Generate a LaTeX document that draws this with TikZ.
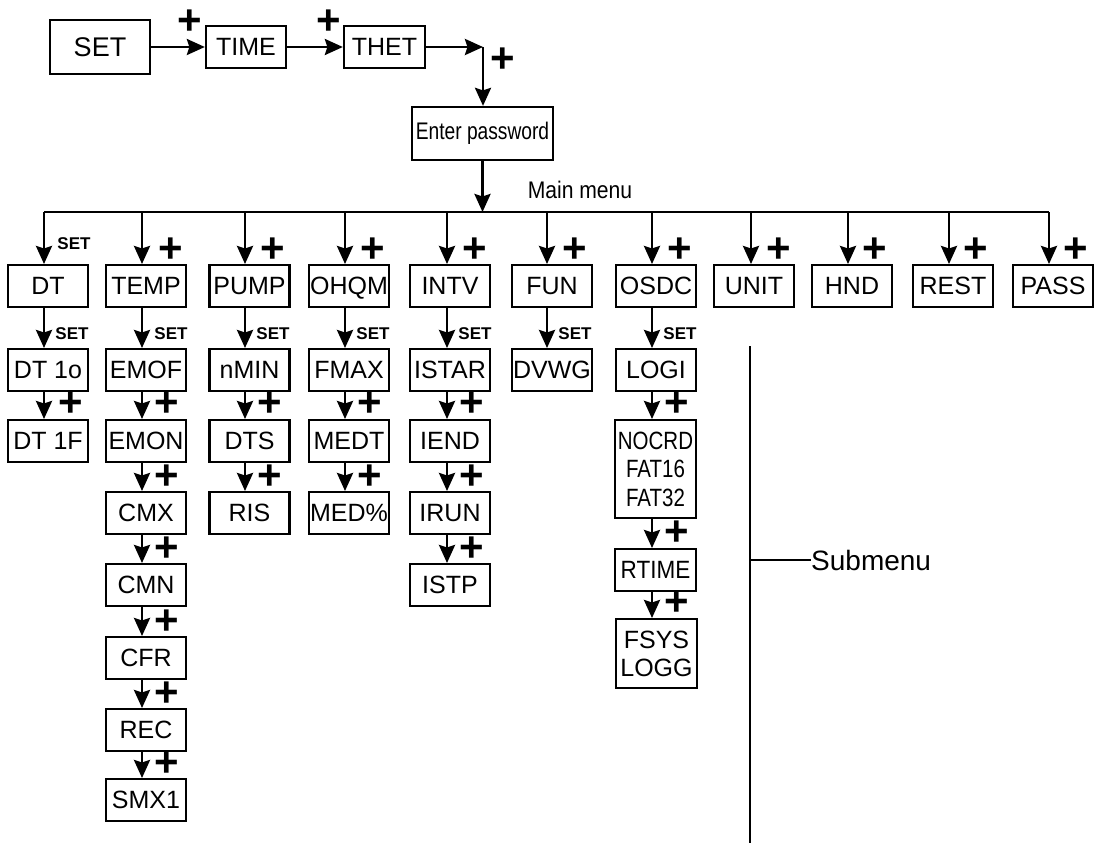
\documentclass[tikz,border=0pt]{standalone}
\usepackage{fontspec}
\setmainfont{Liberation Sans}
\usetikzlibrary{arrows.meta}
\begin{document}
\begin{tikzpicture}[x=1pt,y=-1pt,
 box/.style={draw,line width=2.3pt,minimum width=80pt,minimum height=42pt,inner sep=0pt,anchor=north,font=\fontsize{25}{28.5}\selectfont},
 arr/.style={line width=2.7pt,-{Stealth[length=18pt,width=16pt,inset=2.5pt]}},
 plus/.style={inner sep=0pt,font=\bfseries\fontsize{42}{42}\selectfont},
 setl/.style={inner sep=0pt,font=\bfseries\fontsize{17}{17}\selectfont},
 ln/.style={line width=2.8pt}]
\useasboundingbox (0,0) rectangle (1097,843);
% top row
\node[box,anchor=center,minimum width=100pt,minimum height=54pt,font=\fontsize{27}{30}\selectfont] (set) at (100,47) {SET};
\node[box,anchor=center] (time) at (246,47) {TIME};
\node[box,anchor=center,minimum width=81pt] (thet) at (384.5,47) {THET};
\coordinate (corner) at (483,47);
\node[box,anchor=center,minimum width=141pt,minimum height=53pt,font=\fontsize{24}{28}\selectfont] (pw) at (482.5,133.5) {\scalebox{0.8}[1]{Enter password}};
\draw[arr] (set) -- (time);
\draw[arr] (time) -- (thet);
\draw[arr] (thet) -- (corner);
\draw[arr] (corner) -- (pw.north -| corner);
\node[plus] (pa) at (190,22) {+};
\node[plus] (pb) at (329,22) {+};
\node[plus] (pc) at (503,60) {+};
% bus
\coordinate (c1) at (44,212);
\coordinate (c2) at (142,212);
\coordinate (c3) at (245,212);
\coordinate (c4) at (345,212);
\coordinate (c5) at (447,212);
\coordinate (c6) at (547,212);
\coordinate (c7) at (652,212);
\coordinate (c8) at (751,212);
\coordinate (c9) at (848,212);
\coordinate (c10) at (949,212);
\coordinate (c11) at (1049,212);
\draw[arr] (pw.south) -- (pw.south |- c1);
\draw[ln] (c1) -- (c11);
\node[inner sep=0pt,font=\fontsize{24}{28}\selectfont] (mm) at (580,190) {\scalebox{0.88}[1]{Main menu}};
% main menu row
\node[box] (dt) at (48,264) {DT};
\node[box] (temp) at (146,264) {TEMP};
\node[box] (pump) at (249.5,264) {PUMP};
\node[box] (ohqm) at (349,264) {OH\smash{Q}M};
\node[box] (intv) at (450,264) {INTV};
\node[box] (fun) at (552,264) {FUN};
\node[box] (osdc) at (656,264) {OSDC};
\node[box] (unit) at (754,264) {UNIT};
\node[box] (hnd) at (852,264) {HND};
\node[box] (rest) at (953,264) {REST};
\node[box] (pass) at (1053,264) {PASS};
\draw[arr] (c1) -- (dt.north -| c1);
\draw[arr] (c2) -- (temp.north -| c2);
\draw[arr] (c3) -- (pump.north -| c3);
\draw[arr] (c4) -- (ohqm.north -| c4);
\draw[arr] (c5) -- (intv.north -| c5);
\draw[arr] (c6) -- (fun.north -| c6);
\draw[arr] (c7) -- (osdc.north -| c7);
\draw[arr] (c8) -- (unit.north -| c8);
\draw[arr] (c9) -- (hnd.north -| c9);
\draw[arr] (c10) -- (rest.north -| c10);
\draw[arr] (c11) -- (pass.north -| c11);
\node[setl] (s1) at (74,244) {SET};
\node[plus] (p2) at (171,250) {+};
\node[plus] (p3) at (273,250) {+};
\node[plus] (p4) at (373,250) {+};
\node[plus] (p5) at (475,250) {+};
\node[plus] (p6) at (575,250) {+};
\node[plus] (p7) at (680,250) {+};
\node[plus] (p8) at (779,250) {+};
\node[plus] (p9) at (875,250) {+};
\node[plus] (p10) at (976,250) {+};
\node[plus] (p11) at (1076,250) {+};
% DT column
\node[box] (dta) at (48,348) {DT 1o};
\node[box] (dtb) at (48,419) {DT 1F};
\draw[arr] (dt.south -| c1) -- (dta.north -| c1);
\draw[arr] (dta.south -| c1) -- (dtb.north -| c1);
\node[setl] (s1a) at (72,334) {SET};
\node[plus] (p1b) at (71,404) {+};
% TEMP column
\node[box] (emof) at (146,348) {EMOF};
\node[box] (emon) at (146,419) {EMON};
\node[box] (cmx) at (146,491) {CMX};
\node[box] (cmn) at (146,563) {CMN};
\node[box] (cfr) at (146,636) {CFR};
\node[box] (rec) at (146,708) {REC};
\node[box] (smx) at (146,778) {SMX1};
\draw[arr] (temp.south -| c2) -- (emof.north -| c2);
\draw[arr] (emof.south -| c2) -- (emon.north -| c2);
\draw[arr] (emon.south -| c2) -- (cmx.north -| c2);
\draw[arr] (cmx.south -| c2) -- (cmn.north -| c2);
\draw[arr] (cmn.south -| c2) -- (cfr.north -| c2);
\draw[arr] (cfr.south -| c2) -- (rec.north -| c2);
\draw[arr] (rec.south -| c2) -- (smx.north -| c2);
\node[setl] (s2a) at (171,334) {SET};
\node[plus] (p2b) at (167,404) {+};
\node[plus] (p2c) at (167,477) {+};
\node[plus] (p2d) at (167,549) {+};
\node[plus] (p2e) at (167,622) {+};
\node[plus] (p2f) at (167,694) {+};
\node[plus] (p2g) at (167,764) {+};
% PUMP column
\node[box] (nmin) at (249.5,348) {nMIN};
\node[box] (dts) at (249.5,419) {DTS};
\node[box] (ris) at (249.5,491) {RIS};
\draw[arr] (pump.south -| c3) -- (nmin.north -| c3);
\draw[arr] (nmin.south -| c3) -- (dts.north -| c3);
\draw[arr] (dts.south -| c3) -- (ris.north -| c3);
\node[setl] (s3a) at (273,334) {SET};
\node[plus] (p3b) at (270,404) {+};
\node[plus] (p3c) at (270,477) {+};
% OHQM column
\node[box] (fmax) at (349,348) {FMAX};
\node[box] (medt) at (349,419) {MEDT};
\node[box] (medp) at (349,491) {MED\%};
\draw[arr] (ohqm.south -| c4) -- (fmax.north -| c4);
\draw[arr] (fmax.south -| c4) -- (medt.north -| c4);
\draw[arr] (medt.south -| c4) -- (medp.north -| c4);
\node[setl] (s4a) at (373,334) {SET};
\node[plus] (p4b) at (370,404) {+};
\node[plus] (p4c) at (370,477) {+};
% INTV column
\node[box] (istar) at (450,348) {ISTAR};
\node[box] (iend) at (450,419) {IEND};
\node[box] (irun) at (450,491) {IRUN};
\node[box] (istp) at (450,563) {ISTP};
\draw[arr] (intv.south -| c5) -- (istar.north -| c5);
\draw[arr] (istar.south -| c5) -- (iend.north -| c5);
\draw[arr] (iend.south -| c5) -- (irun.north -| c5);
\draw[arr] (irun.south -| c5) -- (istp.north -| c5);
\node[setl] (s5a) at (475,334) {SET};
\node[plus] (p5b) at (472,404) {+};
\node[plus] (p5c) at (472,477) {+};
\node[plus] (p5d) at (472,549) {+};
% FUN column
\node[box] (dvwg) at (552,348) {DVWG};
\draw[arr] (fun.south -| c6) -- (dvwg.north -| c6);
\node[setl] (s6a) at (575,334) {SET};
% OSDC column
\node[box] (logi) at (656,348) {LOGI};
\node[box,minimum width=81pt,minimum height=98pt,align=center] (nocrd) at (655.5,419) {\scalebox{0.82}[1]{NOCRD}\\\scalebox{0.82}[1]{FAT16}\\\scalebox{0.82}[1]{FAT32}};
\node[box,minimum width=81pt] (rtime) at (655.5,548) {\scalebox{0.9}[1]{RTIME}};
\node[box,minimum width=81pt,minimum height=69pt,align=center,font=\fontsize{25}{28}\selectfont] (fsys) at (656.5,618) {FSYS\\LOGG};
\draw[arr] (osdc.south -| c7) -- (logi.north -| c7);
\draw[arr] (logi.south -| c7) -- (nocrd.north -| c7);
\draw[arr] (nocrd.south -| c7) -- (rtime.north -| c7);
\draw[arr] (rtime.south -| c7) -- (fsys.north -| c7);
\node[setl] (s7a) at (680,334) {SET};
\node[plus] (p7b) at (677,404) {+};
\node[plus] (p7c) at (677,533) {+};
\node[plus] (p7d) at (677,603) {+};
% submenu
\coordinate (st) at (750,346);
\coordinate (sb) at (750,843);
\coordinate (sm) at (750,560);
\node[anchor=west,inner sep=0pt,font=\fontsize{28}{30}\selectfont] (sub) at (811,560) {Submenu};
\draw[ln] (st) -- (sb);
\draw[ln] (sm) -- (sub.west);
\end{tikzpicture}
\end{document}
